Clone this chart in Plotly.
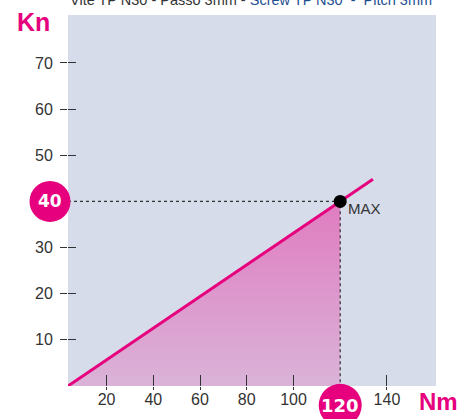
import plotly.graph_objects as go

# Load line: axial load (Kn) against input torque (Nm)
torque_nm = [3.5, 120, 134]
load_kn = [0, 40, 44.8]

# Rated maximum point
max_nm = 120
max_kn = 40

x_ticks = [20, 40, 60, 80, 100, 140]
y_ticks = [10, 20, 30, 50, 60, 70]
x_range = [3.5, 161]
y_range = [0, 80.4]

title_it = "Vite TP N30 - Passo 3mm - "
title_en = "Screw TP N30  -  Pitch 3mm"

MAGENTA = "#e6007e"
BG = "#d6dcea"
INK = "#333333"
NARROW = "Liberation Sans Narrow, Arial Narrow, Liberation Sans, Arial"
TICK_FONT = dict(family=NARROW, size=16, color=INK)

fig = go.Figure()

# Shaded working area under the line up to the maximum point
fig.add_trace(go.Scatter(
    x=[torque_nm[0], max_nm, max_nm], y=[load_kn[0], max_kn, 0],
    mode="none", fill="toself", hoverinfo="skip",
    fillgradient=dict(type="vertical",
                      colorscale=[[0, "#dab3d8"], [1, "#e07cc0"]]),
    showlegend=False,
))

# Dotted guides to the maximum point
fig.add_trace(go.Scatter(
    x=[x_range[0], max_nm, max_nm], y=[max_kn, max_kn, 0],
    mode="lines", line=dict(color=INK, width=1.2, dash="dot"),
    hoverinfo="skip", showlegend=False,
))

# Load line
fig.add_trace(go.Scatter(
    x=torque_nm, y=load_kn, mode="lines",
    line=dict(color=MAGENTA, width=3), showlegend=False,
))

# Maximum marker
fig.add_trace(go.Scatter(
    x=[max_nm], y=[max_kn], mode="markers",
    marker=dict(color="black", size=13), showlegend=False,
))

# Invisible trace carrying the inner tick axes
fig.add_trace(go.Scatter(
    x=[max_nm], y=[max_kn], xaxis="x2", yaxis="y2", mode="markers",
    marker=dict(opacity=0), hoverinfo="skip", showlegend=False,
))

axis_common = dict(showgrid=False, zeroline=False, showline=False,
                   tickcolor=INK, tickwidth=1.3, fixedrange=True,
                   automargin=False)

fig.update_layout(
    width=465, height=419,
    margin=dict(l=68, r=29, t=15, b=33),
    paper_bgcolor="white", plot_bgcolor=BG,
    xaxis=dict(range=x_range, tickvals=x_ticks, ticks="outside", ticklen=3,
               tickfont=TICK_FONT, ticklabelstandoff=-4, **axis_common),
    yaxis=dict(range=y_range, tickvals=y_ticks, ticks="outside", ticklen=7,
               tickfont=TICK_FONT, ticklabelstandoff=4, **axis_common),
    xaxis2=dict(range=x_range, tickvals=x_ticks, ticks="inside", ticklen=11,
                overlaying="x", anchor="y2", showticklabels=False, **axis_common),
    yaxis2=dict(range=y_range, tickvals=y_ticks, ticks="inside", ticklen=8,
                overlaying="y", anchor="x2", showticklabels=False, **axis_common),
    showlegend=False,
)

# Fractional plot positions of the maximum values
x_frac = (max_nm - x_range[0]) / (x_range[1] - x_range[0])
y_frac = (max_kn - y_range[0]) / (y_range[1] - y_range[0])
badge_out_x = -0.0489   # badge centre left of the y axis
badge_out_y = -0.052    # badge centre below the x axis

# Highlight badges for the maximum values on each axis
for bx, by, r in [(badge_out_x, y_frac, 20.5), (x_frac, badge_out_y, 21.5)]:
    fig.add_shape(type="circle", xref="paper", yref="paper",
                  xsizemode="pixel", ysizemode="pixel",
                  xanchor=bx, yanchor=by, x0=-r, x1=r, y0=-r, y1=r,
                  fillcolor=MAGENTA, line=dict(width=0), layer="above")

badge_font = dict(family="DejaVu Sans, Verdana", size=17, color="white")
fig.add_annotation(xref="paper", yref="paper", x=badge_out_x, y=y_frac,
                   xanchor="center", yanchor="middle",
                   text=f"<b>{max_kn}</b>", showarrow=False, font=badge_font)
fig.add_annotation(xref="paper", yref="paper", x=x_frac, y=badge_out_y,
                   xanchor="center", yanchor="middle",
                   text=f"<b>{max_nm}</b>", showarrow=False,
                   font=dict(badge_font, size=18))

# MAX label next to the point
fig.add_annotation(x=max_nm, y=max_kn, text="MAX", showarrow=False,
                   xanchor="left", yanchor="middle", xshift=6, yshift=-7,
                   font=dict(family="Liberation Sans, Arial", size=15, color=INK))

# Axis unit labels
unit_font = dict(family="Liberation Sans, Arial", size=25, color=MAGENTA)
fig.add_annotation(xref="paper", yref="paper", x=-0.144, y=1.024,
                   xanchor="left", yanchor="top", text="<b>Kn</b>",
                   showarrow=False, font=unit_font)
fig.add_annotation(xref="paper", yref="paper", x=0.948, y=-0.043,
                   xanchor="left", yanchor="middle", text="<b>Nm</b>",
                   showarrow=False, font=dict(unit_font, size=24))

# Bilingual heading
fig.add_annotation(xref="paper", yref="paper", x=0, y=1.0135,
                   xanchor="left", yanchor="bottom", showarrow=False,
                   text=f"<span style='color:{INK}'>{title_it}</span>"
                        f"<span style='color:#1f4f91'>{title_en}</span>",
                   font=dict(TICK_FONT, size=14.5))

fig.write_html("out.html")
